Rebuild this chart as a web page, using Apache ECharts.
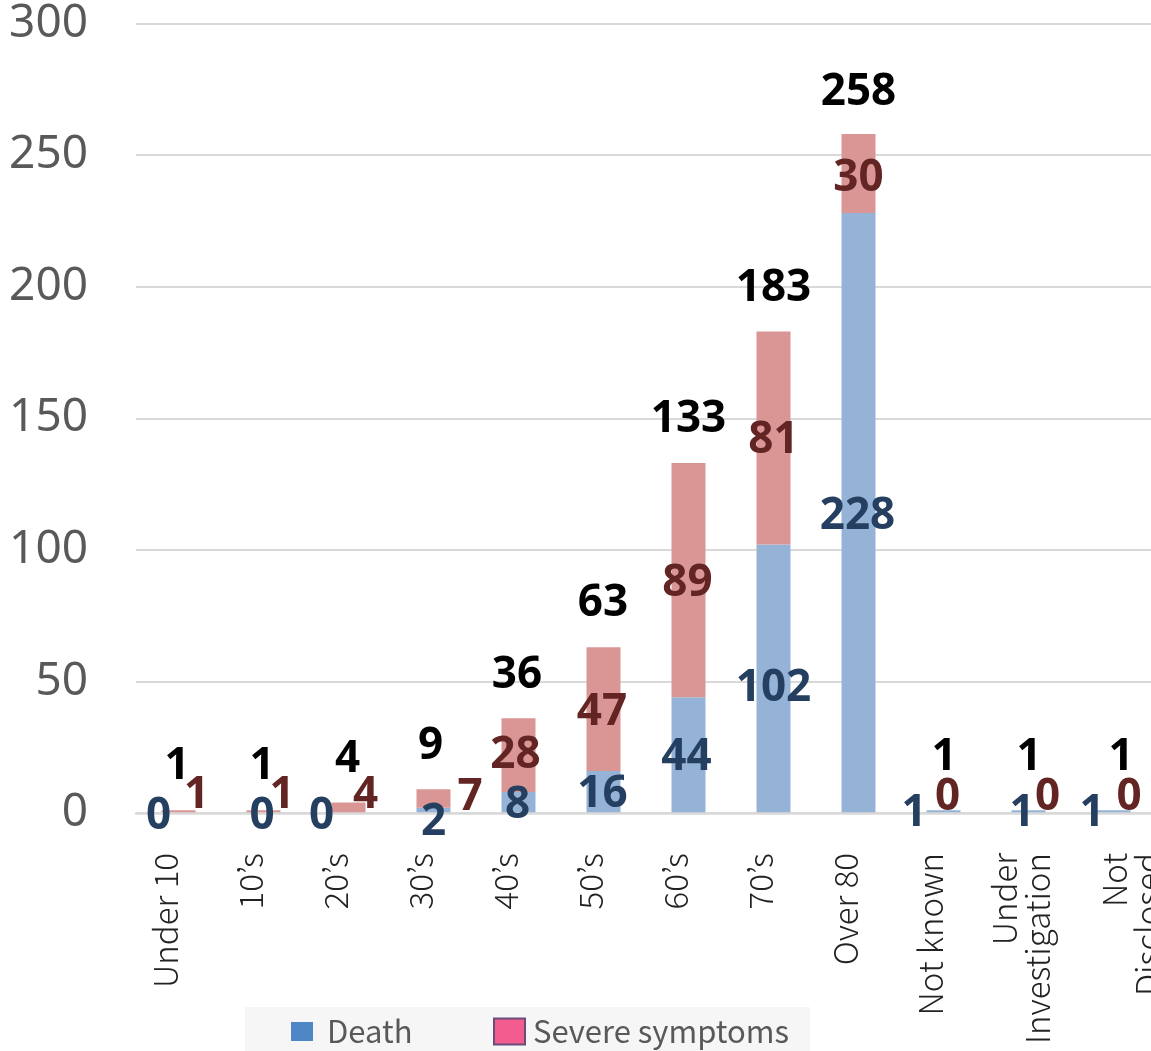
<!DOCTYPE html>
<html>
<head>
<meta charset="utf-8">
<script src="https://cdn.jsdelivr.net/npm/echarts@6/dist/echarts.min.js"></script>
<style>
  html, body { margin: 0; padding: 0; background: #ffffff; }
  #chart { width: 1151px; height: 1051px; }
</style>
</head>
<body>
<div id="chart"></div>
<script>
// Age groups on the category axis
const categories = ['Under 10', '10’s', '20’s', '30’s', '40’s', '50’s', '60’s', '70’s', 'Over 80', 'Not known', 'Under\nInvestigation', 'Not\nDisclosed'];
// Cases per age group
const deaths = [0, 0, 0, 2, 8, 16, 44, 102, 228, 1, 1, 1];
const severe = [1, 1, 4, 7, 28, 47, 89, 81, 30, 0, 0, 0];
const totals = [1, 1, 4, 9, 36, 63, 133, 183, 258, 1, 1, 1];
// Value axis
const yMin = 0, yMax = 300, yStep = 50;

// Label nudges [dx, dy] so crowded small-value labels sit apart
const deathShift = [[-20, 3], [-1.5, 3], [-27, 3], [0, 12], [-1, 2.5], [-1, 3], [-2, 2], [0, 10], [-1, 3], [-29.5, 2], [-6.5, 2], [-21.5, 2]];
const severeShift = [[18, -16], [18.5, -16], [17, -12], [36.5, -1.5], [-3, 0], [-1.5, 3], [-1, 3], [0, 2], [0, 4.5], [4, -13], [19, -13], [15.5, -13]];
const totalShift = [[-1.5, 0], [-1.5, 0], [-1, 1], [-3, 1], [-1.5, 1], [-0.5, 0], [0, 0], [0, 1], [0, 2], [0.5, -9], [0.5, -9], [7.5, -9]];
// Extra leading space (px) before the two-line tick labels, which nudges them sideways
const tickLead = { 'Under\nInvestigation': 11, 'Not\nDisclosed': 61 };

const BOLD = { fontFamily: 'Noto Sans', fontWeight: 'bold', fontSize: 44 };
const TICK_FONT = { fontFamily: 'Noto Sans CJK JP', fontWeight: 300, fontSize: 33, lineHeight: 33, color: '#222222' };
const LEGEND_FONT = { fontFamily: 'Noto Sans CJK JP', fontSize: 31, color: '#595959' };
const CLEAR = { color: 'rgba(0,0,0,0)' };

const chart = echarts.init(document.getElementById('chart'), null, { renderer: 'canvas' });

chart.setOption({
  animation: false,
  backgroundColor: '#ffffff',
  grid: { left: 136, width: 1020, top: 23.5, height: 789.5, containLabel: false, outerBoundsMode: 'none' },
  graphic: [{
    type: 'rect', z: 0,
    shape: { x: 245, y: 1007, width: 565, height: 44 },
    style: { fill: '#F6F6F6' }
  }],
  legend: [{
    z: 5, left: 291, top: 1016, padding: 0, itemWidth: 22, itemHeight: 19,
    icon: 'rect',
    data: [{ name: 'Death', itemStyle: { color: '#4F86C6' } }],
    textStyle: { ...LEGEND_FONT, padding: [0, 0, 0, 9] }
  }, {
    z: 5, left: 493, top: 1016, padding: 0, itemWidth: 31, itemHeight: 26,
    icon: 'rect',
    data: [{ name: 'Severe symptoms', itemStyle: { color: '#F25C8E', borderColor: '#6A4C7A', borderWidth: 2 } }],
    textStyle: { ...LEGEND_FONT, padding: [0, 0, 0, 3] }
  }],
  xAxis: {
    type: 'category',
    data: categories,
    z: 3,   // baseline sits over the bars, under the value labels
    axisLine: { lineStyle: { color: '#D9D9D9', width: 2.5 } },
    axisTick: { show: false },
    axisLabel: {
      interval: 0, rotate: 90, margin: 40,
      padding: [0, 0, 26, 0],
      ...TICK_FONT,
      formatter: function (v) {
        const lines = v.split('\n').map(s => '{t|' + s + '}');
        if (tickLead[v]) lines.unshift('{lead' + tickLead[v] + '|}');
        return lines.join('\n');
      },
      rich: {
        t: { ...TICK_FONT },
        lead11: { lineHeight: 11, height: 11 },
        lead61: { lineHeight: 61, height: 61 }
      }
    }
  },
  yAxis: {
    type: 'value', min: yMin, max: yMax, interval: yStep,
    axisLine: { show: false }, axisTick: { show: false },
    splitLine: { lineStyle: { color: '#D9D9D9', width: 2 } },
    axisLabel: { margin: 48, fontFamily: 'Noto Sans', fontSize: 46, color: '#595959' }
  },
  series: [
    // coloured stacks
    {
      name: 'Death', type: 'bar', stack: 'cases', barWidth: '40%', barGap: '-100%', z: 2,
      itemStyle: { color: '#95B3D7' }, data: deaths
    }, {
      name: 'Severe symptoms', type: 'bar', stack: 'cases', barWidth: '40%', barGap: '-100%', z: 2,
      itemStyle: { color: '#DA9694' }, data: severe
    },
    // the same stacks again, transparent, carrying the value labels above the baseline
    {
      name: 'Death values', type: 'bar', stack: 'labels', barWidth: '40%', barGap: '-100%', z: 4, silent: true,
      itemStyle: CLEAR,
      data: deaths.map((v, i) => ({ value: v, label: { offset: deathShift[i] } })),
      label: { show: true, position: 'inside', color: '#243F60', ...BOLD }
    }, {
      name: 'Severe values', type: 'bar', stack: 'labels', barWidth: '40%', barGap: '-100%', z: 4, silent: true,
      itemStyle: CLEAR,
      data: severe.map((v, i) => ({ value: v, label: { offset: severeShift[i] } })),
      label: { show: true, position: 'inside', color: '#632523', ...BOLD }
    }, {
      // zero-height cap on each stack that carries the total label
      name: 'Total', type: 'bar', stack: 'labels', barWidth: '40%', barGap: '-100%', z: 4, silent: true,
      itemStyle: CLEAR,
      data: totals.map((v, i) => ({ value: 0, label: { offset: totalShift[i] } })),
      label: {
        show: true, position: 'top', distance: 22, color: '#000000', ...BOLD,
        formatter: p => String(totals[p.dataIndex])
      }
    }
  ]
});
</script>
</body>
</html>
